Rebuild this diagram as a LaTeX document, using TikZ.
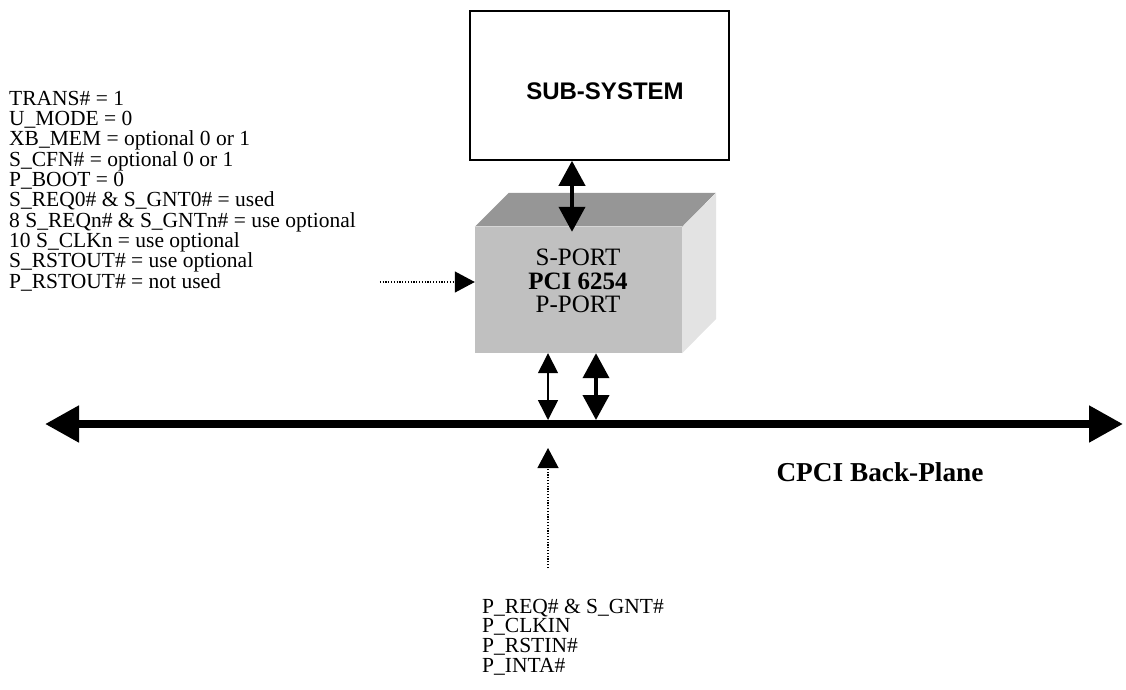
\documentclass[tikz,border=0pt]{standalone}
\usepackage{fontspec}
\setmainfont{Liberation Serif}
\newfontfamily\arialfont{Liberation Sans}
\usetikzlibrary{arrows.meta,calc}
\definecolor{frontgray}{HTML}{C0C0C0}
\definecolor{topgray}{HTML}{969696}
\definecolor{sidegray}{HTML}{E3E3E3}
\definecolor{edgegray}{HTML}{D6D6D6}
\begin{document}
\begin{tikzpicture}[x=1pt,y=-1pt,
  txt/.style={font=\fontsize{21.5}{20}\selectfont, inner sep=0pt, anchor=base west},
  boxtxt/.style={font=\fontsize{25}{23}\selectfont, inner sep=0pt, anchor=base},
  thickarr/.style={line width=4pt, {Triangle[length=25pt,width=26pt]}-{Triangle[length=25pt,width=26pt]}},
  thinarr/.style={line width=1.5pt, {Triangle[length=20pt,width=20pt]}-{Triangle[length=20pt,width=20pt]}},
  busarr/.style={line width=8pt, {Triangle[length=34pt,width=35pt]}-{Triangle[length=34pt,width=35pt]}},
  dotarr/.style={line width=1.2pt, dash pattern=on 1.2pt off 1.6pt, -{Triangle[length=20pt,width=21pt]}},
]
\useasboundingbox (0,0) rectangle (1126,689);

% Sub-system box
\node[draw, line width=1.5pt, minimum width=259pt, minimum height=149pt, inner sep=0pt] (sub) at (599.5,85.5) {};
\node[font=\arialfont\bfseries\fontsize{24}{28}\selectfont, inner sep=0pt, anchor=base] (subt) at (605,99.5) {SUB-SYSTEM};

% PCI 6254 3D box
\node[fill=frontgray, minimum width=207pt, minimum height=126pt, inner sep=0pt] (pci) at (578.5,290) {};
\fill[topgray] (pci.north west) -- ++(34,-34) -- ++(207,0) -- (pci.north east) -- cycle;
\fill[sidegray] (pci.north east) -- ++(34,-34) -- ++(0,126) -- (pci.south east) -- cycle;
\draw[edgegray, line width=1.2pt] (pci.north west) -- (pci.north east);
\node[boxtxt] (sport) at (578,265) {S-PORT};
\node[boxtxt] (pcin) at (578,289) {\bfseries PCI 6254};
\node[boxtxt] (pport) at (578,312) {P-PORT};

% Bus
\coordinate (busL) at (45,424);
\coordinate (busR) at (1123,424);
\draw[busarr] (busL) -- (busR);
\node[font=\bfseries\fontsize{27.3}{32}\selectfont, inner sep=0pt, anchor=base] (cpci) at (880,481) {CPCI Back-Plane};

% Arrows
\draw[thickarr] ($(sub.south)+(-27.5,0)$) -- ($(pci.north)+(-6.5,5)$);
\draw[thinarr] ($(pci.south)+(-30.5,0)$) -- ($(busL)+(503,-4)$);
\draw[thickarr] ($(pci.south)+(17.5,0)$) -- ($(busL)+(551,-4)$);
\draw[dotarr] ($(pci.west)+(-95,-8)$) -- ($(pci.west)+(0,-8)$);
\draw[dotarr] ($(busL)+(503,144)$) -- ($(busL)+(503,24)$);

% Left text
\foreach \t [count=\i] in {TRANS\# = 1, U\_MODE = 0, XB\_MEM = optional 0 or 1,
  S\_CFN\# = optional 0 or 1, P\_BOOT = 0, S\_REQ0\# \& S\_GNT0\# = used,
  8 S\_REQn\# \& S\_GNTn\# = use optional, 10 S\_CLKn = use optional,
  S\_RSTOUT\# = use optional, P\_RSTOUT\# = not used}
  \node[txt] (l\i) at (9,{105+(\i-1)*20.35}) {\t};

% Bottom text
\foreach \t [count=\i] in {P\_REQ\# \& S\_GNT\#, P\_CLKIN, P\_RSTIN\#, P\_INTA\#}
  \node[txt] (b\i) at (482,{613+(\i-1)*19.7}) {\t};
\end{tikzpicture}
\end{document}
